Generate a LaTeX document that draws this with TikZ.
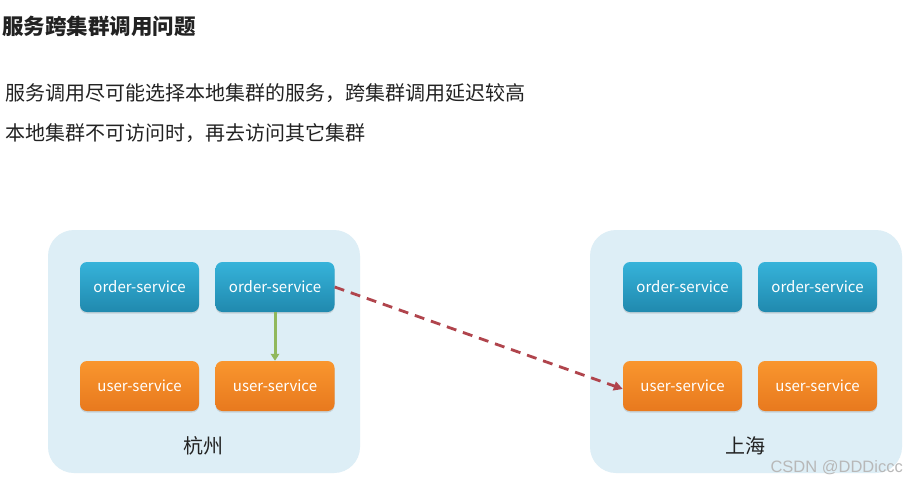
\documentclass[tikz,border=0pt]{standalone}
\usepackage{fontspec}
\setmainfont{Noto Sans CJK SC}
\newfontfamily\wmfont{Liberation Sans}
\usetikzlibrary{shadows,arrows.meta}
\definecolor{clusterbg}{HTML}{DDEEF6}
\definecolor{bluetop}{HTML}{36B3DA}
\definecolor{bluebot}{HTML}{2089AE}
\definecolor{orgtop}{HTML}{F9962E}
\definecolor{orgbot}{HTML}{E8791E}
\definecolor{dashred}{HTML}{B0444C}
\definecolor{arrgreen}{HTML}{90B85C}
\definecolor{txt}{HTML}{222222}
\begin{document}
\begin{tikzpicture}[x=1pt,y=-1pt,
  cluster/.style={fill=clusterbg, rounded corners=26pt, minimum width=312pt, minimum height=243pt, inner sep=0pt},
  svc/.style={rounded corners=7pt, minimum width=119pt, minimum height=50pt, inner sep=0pt,
     text=white, font=\fontsize{15}{17}\selectfont,
     drop shadow={shadow xshift=0pt, shadow yshift=-1.5pt, opacity=0.25}},
  ordersvc/.style={svc, top color=bluetop, bottom color=bluebot},
  usersvc/.style={svc, top color=orgtop, bottom color=orgbot},
  city/.style={text=txt, font=\fontsize{20}{22}\selectfont},
  bodytext/.style={anchor=west, text=txt, inner sep=0pt, font=\fontsize{20}{22}\selectfont}
]
\useasboundingbox (0,0) rectangle (907,485);
\fill[white] (0,0) rectangle (907,485);

\node[anchor=west, inner sep=0pt, text=txt, font=\fontsize{21.5}{23}\selectfont\bfseries] (title) at (2,26) {服务跨集群调用问题};
\node[bodytext] (l1) at (5,93) {服务调用尽可能选择本地集群的服务，跨集群调用延迟较高};
\node[bodytext] (l2) at (5,133) {本地集群不可访问时，再去访问其它集群};

\node[cluster] (hz) at (204,351.5) {};
\node[cluster] (sh) at (746,351.5) {};

\node[ordersvc] (ho1) at (139.5,287) {order-service};
\node[ordersvc] (ho2) at (275,287) {order-service};
\node[usersvc] (hu1) at (139.5,386) {user-service};
\node[usersvc] (hu2) at (275,386) {user-service};

\node[ordersvc] (so1) at (682.5,287) {order-service};
\node[ordersvc] (so2) at (817.5,287) {order-service};
\node[usersvc] (su1) at (682.5,386) {user-service};
\node[usersvc] (su2) at (817.5,386) {user-service};

\node[city] (hzl) at (203,446) {杭州};
\node[city] (shl) at (745,446) {上海};

\draw[arrgreen, line width=3pt, -{Triangle[length=7pt,width=8.5pt]}] (ho2.south) -- (hu2.north);
\draw[dashred, line width=2.8pt, dash pattern=on 10pt off 7pt, -{Triangle[length=9pt,width=9pt]}] (ho2.east) -- ([yshift=-3pt]su1.west);

\node[anchor=east, inner sep=0pt, text=black!28, font=\wmfont\fontsize{16.5}{18}\selectfont] (wm) at (903,468) {CSDN @DDDiccc};
\end{tikzpicture}
\end{document}
